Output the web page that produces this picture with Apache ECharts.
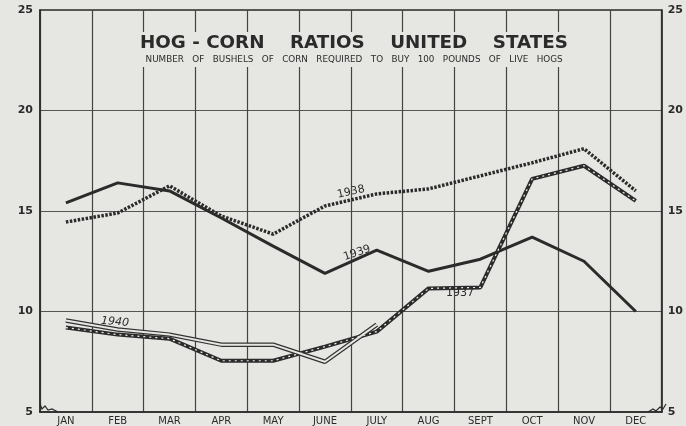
<!DOCTYPE html>
<html>
<head>
<meta charset="utf-8">
<script src="https://cdn.jsdelivr.net/npm/echarts@6/dist/echarts.min.js"></script>
<style>
html,body{margin:0;padding:0;background:#e6e6e3;}
#main{width:686px;height:426px;}
</style>
</head>
<body>
<div id="main"></div>
<script>
var months = ['JAN','FEB','MAR','APR','MAY','JUNE','JULY','AUG','SEPT','OCT','NOV','DEC'];
var yTicks = [5, 10, 15, 20, 25];
var y1937 = [9.2, 8.85, 8.65, 7.55, 7.55, 8.25, 9.0, 11.15, 11.2, 16.6, 17.25, 15.5];
var y1938 = [14.45, 14.9, 16.25, 14.75, 13.85, 15.25, 15.85, 16.1, 16.75, 17.4, 18.1, 16.0];
var y1939 = [15.4, 16.4, 16.0, 14.65, 13.25, 11.9, 13.05, 12.0, 12.6, 13.7, 12.5, 10.0];
var y1940 = [9.55, 9.1, 8.85, 8.35, 8.35, 7.5, 9.35];

var ink = '#2b2b2b';
var paper = '#e6e6e3';
var font = 'DejaVu Sans';

var chart = echarts.init(document.getElementById('main'), null, {renderer: 'canvas'});
var yAxisBase = {
  type: 'value', min: 5, max: 25, interval: 5,
  axisLine: {show: true, lineStyle: {color: ink, width: 1.5}},
  axisTick: {show: false},
  splitLine: {show: true, lineStyle: {color: '#555', width: 1.2}},
  axisLabel: {color: ink, fontFamily: font, fontWeight: 'bold', fontSize: 11, margin: 7}
};
chart.setOption({
  backgroundColor: paper,
  animation: false,
  title: {
    text: 'HOG - CORN    RATIOS    UNITED    STATES',
    subtext: '  NUMBER   OF   BUSHELS   OF   CORN   REQUIRED   TO   BUY   100   POUNDS   OF   LIVE   HOGS',
    left: 136, top: 32,
    backgroundColor: paper,
    padding: [2, 4, 3, 4],
    itemGap: 3,
    textStyle: {fontFamily: font, fontWeight: 'bold', fontSize: 18.3, color: ink},
    subtextStyle: {fontFamily: font, fontSize: 8.8, color: ink}
  },
  grid: {left: 40, right: 20, top: 10, bottom: 14, show: true, borderColor: ink, borderWidth: 1.5},
  xAxis: {
    type: 'category', data: months, boundaryGap: true,
    axisLine: {show: true, lineStyle: {color: ink, width: 1.5}},
    axisTick: {show: false},
    splitLine: {show: true, interval: 0, lineStyle: {color: '#444', width: 1.2}},
    axisLabel: {color: ink, fontFamily: font, fontSize: 10, margin: 4, interval: 0}
  },
  yAxis: [
    Object.assign({}, yAxisBase, {position: 'left'}),
    Object.assign({}, yAxisBase, {position: 'right', splitLine: {show: false}, axisLabel: {color: ink, fontFamily: font, fontWeight: 'bold', fontSize: 11, margin: 6}})
  ],
  series: [
    {name: '1939', type: 'line', data: y1939, symbol: 'none', lineStyle: {color: ink, width: 3}, z: 5},
    {name: '1938', type: 'line', data: y1938, symbol: 'none', lineStyle: {color: ink, width: 3.5, type: [2.5, 1.5]}, z: 5},
    {name: '1937', type: 'line', data: y1937, symbol: 'none', lineStyle: {color: ink, width: 4}, z: 5},
    {name: '1937w', type: 'line', data: y1937, symbol: 'none', lineStyle: {color: '#f0f0ee', width: 1.2, type: [2, 4]}, z: 6},
    {name: '1940', type: 'line', data: y1940, symbol: 'none', lineStyle: {color: '#333', width: 4.5}, z: 5},
    {name: '1940w', type: 'line', data: y1940, symbol: 'none', lineStyle: {color: paper, width: 2}, z: 6}
  ],
  graphic: [
    {type: 'text', x: 351, y: 192, rotation: 0.22, style: {text: '1938', font: '11px "DejaVu Sans"', fill: ink, align: 'center', verticalAlign: 'middle'}},
    {type: 'text', x: 357, y: 253, rotation: 0.33, style: {text: '1939', font: '11px "DejaVu Sans"', fill: ink, align: 'center', verticalAlign: 'middle'}},
    {type: 'text', x: 460, y: 293, rotation: 0, style: {text: '1937', font: '11px "DejaVu Sans"', fill: ink, align: 'center', verticalAlign: 'middle'}},
    {type: 'text', x: 115, y: 322, rotation: -0.08, style: {text: '1940', font: 'italic 11px "DejaVu Sans"', fill: ink, align: 'center', verticalAlign: 'middle'}},
    {type: 'polyline', z: 10, shape: {points: [[40, 404], [42, 409], [45, 406], [48, 410], [52, 409], [58, 412]]}, style: {stroke: ink, lineWidth: 1.2, fill: null}},
    {type: 'polyline', z: 10, shape: {points: [[648, 412], [653, 409], [656, 411], [660, 407], [663, 409], [666, 404]]}, style: {stroke: ink, lineWidth: 1.2, fill: null}}
  ]
});
</script>
</body>
</html>
